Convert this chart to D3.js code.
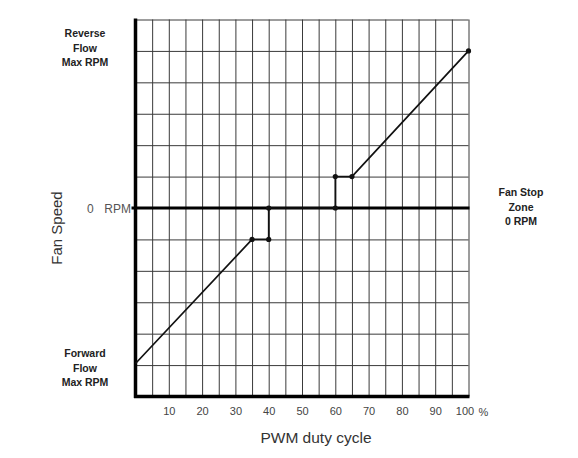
<!DOCTYPE html>
<html>
<head>
<meta charset="utf-8">
<script src="https://cdn.jsdelivr.net/npm/d3@7.9.0/dist/d3.min.js"></script>
<style>
  html, body { margin: 0; padding: 0; background: #fff; }
  svg { display: block; font-family: "Liberation Sans", Arial, sans-serif; }
  .grid line { stroke: #3a3a3a; stroke-width: 1; }
  .grid path { display: none; }
  .ticks path, .ticks line { display: none; }
  .ticks text { fill: #444; font-size: 11px; }
</style>
</head>
<body>
<div id="chart"></div>
<script>
// PWM duty cycle (%) vs fan speed (grid units, -6 .. 6, 0 = stopped)
const pwm = [0, 35, 40, 40, 60, 60, 65, 100];
const speed = [-4.95, -1, -1, 0, 0, 1, 1, 5];
const markerIdx = [1, 2, 3, 4, 5, 6, 7];

const xGrid = d3.range(0, 101, 5);
const yGrid = d3.range(-6, 7, 1);
const xTickLabels = [10, 20, 30, 40, 50, 60, 70, 80, 90, 100];

const width = 578, height = 458;

const svg = d3.select('#chart')
  .append('svg')
  .attr('width', width)
  .attr('height', height);

const x = d3.scaleLinear().domain([0, 100]).range([135.5, 468.5]);
const y = d3.scaleLinear().domain([-6, 6]).range([396.5, 19.5]);

// vertical gridlines
svg.append('g')
  .attr('class', 'grid')
  .attr('transform', `translate(0, ${y(-6)})`)
  .call(d3.axisBottom(x).tickValues(xGrid).tickFormat('').tickSize(-(y(-6) - y(6))));

// horizontal gridlines
svg.append('g')
  .attr('class', 'grid')
  .attr('transform', `translate(${x(0)}, 0)`)
  .call(d3.axisLeft(y).tickValues(yGrid).tickFormat('').tickSize(-(x(100) - x(0))));

// thick axes + zero line
svg.append('line')
  .attr('x1', x(0)).attr('x2', x(0))
  .attr('y1', y(6) - 1).attr('y2', y(-6) + 1.5)
  .attr('stroke', '#000').attr('stroke-width', 3.5);
svg.append('line')
  .attr('x1', x(0) - 1.5).attr('x2', x(100) + 1)
  .attr('y1', y(-6)).attr('y2', y(-6))
  .attr('stroke', '#000').attr('stroke-width', 3.5);
svg.append('line')
  .attr('x1', x(0) - 4).attr('x2', x(100) + 1)
  .attr('y1', y(0)).attr('y2', y(0))
  .attr('stroke', '#000').attr('stroke-width', 3);

// x tick labels
const tickAxis = svg.append('g')
  .attr('class', 'ticks')
  .attr('transform', `translate(0, ${y(-6) + 8})`)
  .call(d3.axisBottom(x).tickValues(xTickLabels).tickSize(0).tickFormat(d => d));
tickAxis.selectAll('text')
  .attr('dy', '0.71em')
  .attr('dx', d => d === 100 ? -4 : 0);
svg.append('text')
  .attr('x', x(100) + 10).attr('y', y(-6) + 19)
  .attr('font-size', 11).attr('fill', '#444')
  .text('%');

// curve
const pts = pwm.map((p, i) => [p, speed[i]]);
svg.append('path')
  .datum(pts)
  .attr('fill', 'none')
  .attr('stroke', '#111')
  .attr('stroke-width', 1.7)
  .attr('d', d3.line().x(d => x(d[0])).y(d => y(d[1])));

svg.append('g')
  .selectAll('circle')
  .data(markerIdx.map(i => pts[i]))
  .join('circle')
  .attr('cx', d => x(d[0]))
  .attr('cy', d => y(d[1]))
  .attr('r', 2.6)
  .attr('fill', '#111');

// side labels
function block(lines, cx, cy0) {
  const t = svg.append('text')
    .attr('text-anchor', 'middle')
    .attr('font-size', 10.5)
    .attr('font-weight', 'bold')
    .attr('fill', '#222');
  lines.forEach((s, i) => {
    t.append('tspan').attr('x', cx).attr('y', cy0 + i * 14.7).text(s);
  });
}
block(['Reverse', 'Flow', 'Max RPM'], 85, 37);
block(['Forward', 'Flow', 'Max RPM'], 85, 357);
block(['Fan Stop', 'Zone', '0 RPM'], 521, 196);

svg.append('text')
  .attr('x', 87).attr('y', y(0) + 4.5)
  .attr('font-size', 12)
  .attr('fill', '#555')
  .text('0');
svg.append('text')
  .attr('x', 131).attr('y', y(0) + 4.5)
  .attr('text-anchor', 'end')
  .attr('font-size', 12)
  .attr('fill', '#555')
  .text('RPM');

svg.append('text')
  .attr('transform', `translate(62, 228) rotate(-90)`)
  .attr('text-anchor', 'middle')
  .attr('font-size', 15)
  .attr('fill', '#333')
  .text('Fan Speed');

svg.append('text')
  .attr('x', 316).attr('y', 443)
  .attr('text-anchor', 'middle')
  .attr('font-size', 15.5)
  .attr('fill', '#333')
  .text('PWM duty cycle');
</script>
</body>
</html>
